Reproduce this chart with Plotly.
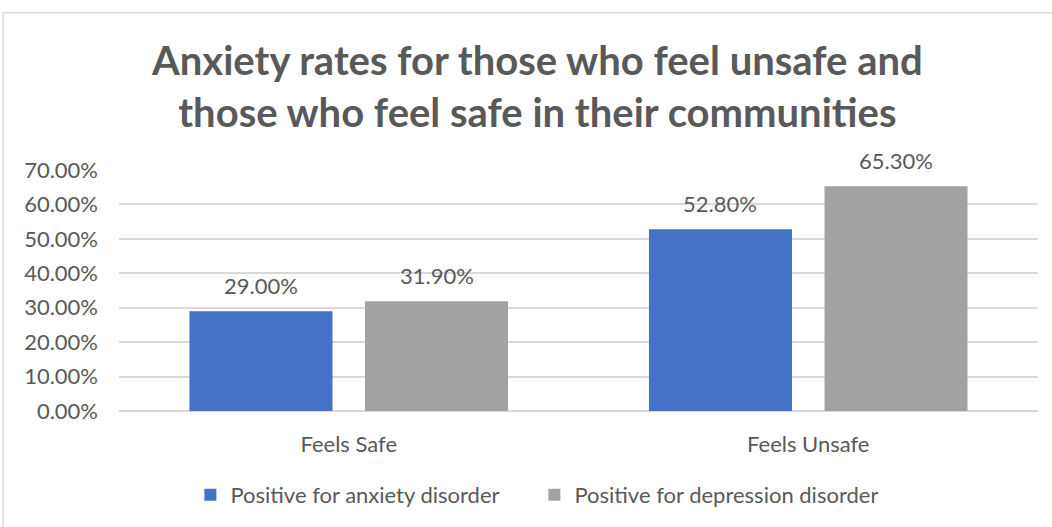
import plotly.graph_objects as go

# Survey results: share of respondents screening positive, by perceived community safety
categories = ["Feels Safe", "Feels Unsafe"]
anxiety = [0.290, 0.528]
depression = [0.319, 0.653]
series_names = ["Positive for anxiety disorder", "Positive for depression disorder"]
y_ticks = [0.0, 0.1, 0.2, 0.3, 0.4, 0.5, 0.6, 0.7]

FONT = "Lato"
TEXT = "#595959"
GRID = "#D9D9D9"
BLUE = "#4472C4"
GRAY = "#A2A2A2"
FS = 22

x_pos = list(range(len(categories)))
BARGAP = 0.236
BARGROUPGAP = 0.185

fig = go.Figure()
fig.add_trace(go.Bar(
    x=x_pos, y=anxiety, name=series_names[0],
    marker=dict(color=BLUE, line=dict(width=0)),
))
fig.add_trace(go.Bar(
    x=x_pos, y=depression, name=series_names[1],
    marker=dict(color=GRAY, line=dict(width=0)),
))

# value labels above each bar, placed at the bar's own centre and height
slot = (1 - BARGAP) / 2
annotations = []
for vals, off in ((anxiety, -slot / 2), (depression, slot / 2)):
    for xi, v in zip(x_pos, vals):
        annotations.append(dict(
            x=xi + off, y=v, xref="x", yref="y",
            text=f"{v * 100:.2f}%", showarrow=False,
            yanchor="bottom", yshift=10,
            font=dict(family=FONT, size=FS, color=TEXT),
        ))

annotations.append(dict(
    x=0.455, y=1.347, xref="paper", yref="paper",
    text="Anxiety rates for those who feel unsafe and<br>those who feel safe in their communities",
    showarrow=False, xanchor="center", yanchor="middle",
    font=dict(family=FONT, size=40, color=TEXT, weight="bold"),
))

fig.update_layout(
    width=1052, height=527,
    margin=dict(l=119, r=14, t=170, b=115),
    paper_bgcolor="white", plot_bgcolor="white",
    barmode="group", bargap=BARGAP, bargroupgap=BARGROUPGAP,
    annotations=annotations,
    showlegend=True,
    legend=dict(
        orientation="h", x=0.452, y=-0.343, xanchor="center", yanchor="middle",
        font=dict(family=FONT, size=FS, color=TEXT),
        itemwidth=30, traceorder="normal",
        entrywidth=299, entrywidthmode="pixels",
    ),
    shapes=[dict(
        type="rect", xref="paper", yref="paper",
        x0=-0.1262, x1=1.2, y0=-0.8, y1=1.653,
        line=dict(color="#D9D9D9", width=1.5), fillcolor="rgba(0,0,0,0)", layer="below",
    )],
)

fig.update_xaxes(
    tickmode="array", tickvals=x_pos, ticktext=categories,
    range=[-0.5, len(categories) - 0.5],
    showgrid=False, zeroline=False, showline=False,
    ticks="", ticklabelstandoff=18,
    tickfont=dict(family=FONT, size=FS, color=TEXT),
)
fig.update_yaxes(
    range=[0, 0.7], tickmode="array", tickvals=y_ticks,
    tickformat=".2%",
    showgrid=True, gridcolor=GRID, gridwidth=1.5,
    zeroline=True, zerolinecolor=GRID, zerolinewidth=1.5,
    showline=False, ticks="", ticklabelstandoff=20,
    tickfont=dict(family=FONT, size=FS, color=TEXT),
)

fig.write_html("out.html")
